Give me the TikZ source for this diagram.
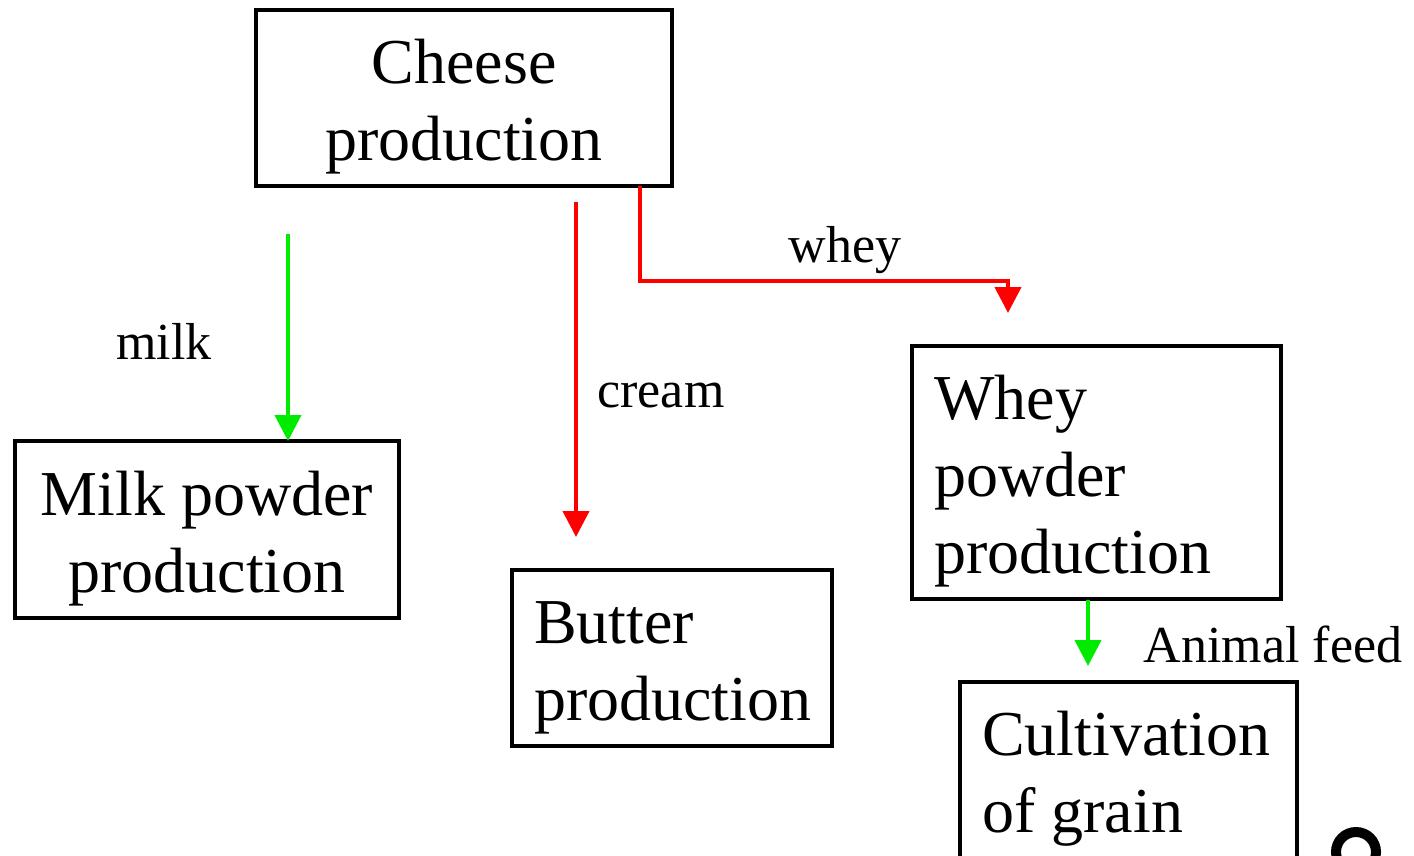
\documentclass[tikz,border=0pt]{standalone}
\usepackage{fontspec}
\setmainfont{Liberation Serif}
\usetikzlibrary{arrows.meta}
\definecolor{arrowgreen}{RGB}{0,235,0}
\definecolor{arrowred}{RGB}{255,0,0}
\begin{document}
\begin{tikzpicture}[x=1pt,y=-1pt,
  box/.style={draw=black, line width=3.5pt, inner sep=0pt},
  big/.style={font=\fontsize{64}{77}\selectfont},
  lbl/.style={font=\fontsize{52}{60}\selectfont, inner sep=0pt},
  flowg/.style={draw=arrowgreen, line width=4pt, -{Triangle[width=26pt,length=26pt]}},
  flowr/.style={draw=arrowred, line width=4pt, -{Triangle[width=26pt,length=26pt]}}]
\useasboundingbox (0,0) rectangle (1414,856);

% boxes
\node[box, minimum width=416pt, minimum height=176pt] (cheese) at (464,98) {};
\node[big, align=center, inner sep=0pt] (cheeset) at (464,107) {Cheese\\production};

\node[box, minimum width=384pt, minimum height=177pt] (milk) at (207,529.5) {};
\node[big, align=center, inner sep=0pt] (milkt) at (207,539) {Milk powder\\production};

\node[box, minimum width=320pt, minimum height=176pt] (butter) at (672,658) {};
\node[big, align=left, inner sep=0pt, anchor=west] (buttert) at (534,668) {Butter\\production};

\node[box, minimum width=369pt, minimum height=253pt] (wheyb) at (1096.5,472.5) {};
\node[big, align=left, inner sep=0pt, anchor=west] (wheyt) at (934,481) {Whey\\powder\\production};

\draw[line width=3.5pt] (960,900) |- (1297,682) -- (1297,900);
\coordinate (cult) at (1128,682);
\node[big, align=left, inner sep=0pt, anchor=north west] (cultt) at (982,711) {Cultivation\\of grain};

% arrow start/end coordinates
\coordinate (mstart) at (288,234);
\coordinate (mend) at (288,441);
\coordinate (cstart) at (576,202);
\coordinate (cend) at (576,537);
\coordinate (wstart) at (640,186);
\coordinate (wend) at (1008,313);
\coordinate (astart) at (1088,600);
\coordinate (aend) at (1088,666);

\draw[flowg] (mstart) -- (mend);
\draw[flowr] (cstart) -- (cend);
\draw[flowr] (wstart) |- (1008,281) -- (wend);
\draw[flowg] (astart) -- (aend);

% labels
\node[lbl] (lmilk) at (164,341) {milk};
\node[lbl] (lcream) at (661,396) {cream};
\node[lbl] (lwhey) at (845,250) {whey};
\node[lbl] (lfeed) at (1273,644) {Animal feed};

% partial glyph at bottom right
\draw[line width=10pt] (1356,852) circle[radius=20];
\end{tikzpicture}
\end{document}
